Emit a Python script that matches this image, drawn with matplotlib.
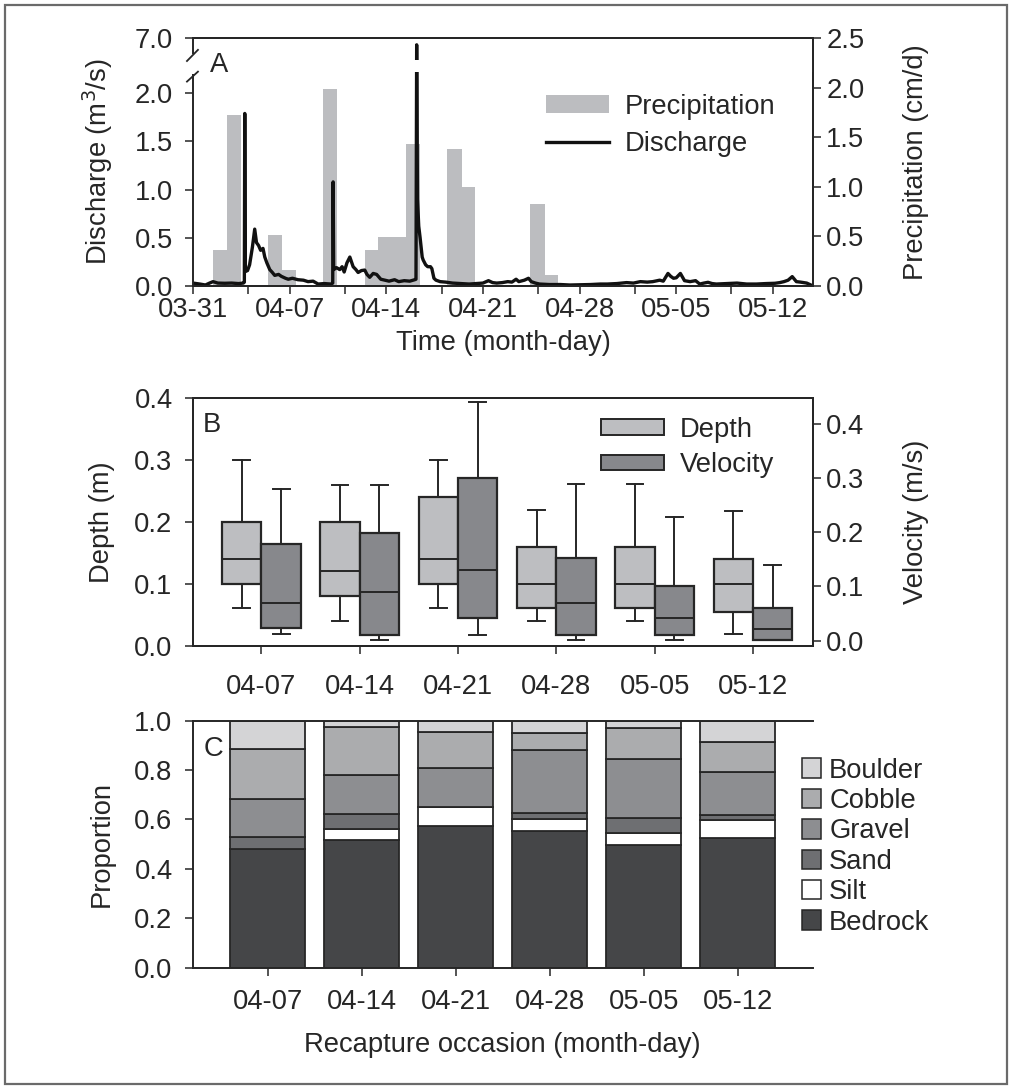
import matplotlib
matplotlib.use("Agg")
import matplotlib.pyplot as plt
import numpy as np
from matplotlib.patches import Patch, Rectangle
from matplotlib.lines import Line2D

# ---------------- data ----------------
# panel A: days after 03-31
week_days = [0, 7, 14, 21, 28, 35, 42]
week_labels = ['03-31', '04-07', '04-14', '04-21', '04-28', '05-05', '05-12']
half_week_days = [4, 11, 18, 25, 32, 39]

precip_day = [1, 2, 5, 6, 9, 12, 13, 14, 15, 18, 19, 24, 25]
precip_cm = [0.36, 1.73, 0.51, 0.16, 1.99, 0.36, 0.49, 0.49, 1.43, 1.38, 1.00, 0.83, 0.11]

discharge_day = [0.0, 0.5, 0.9, 1.2, 1.45, 1.8, 2.3, 2.8, 3.3, 3.65, 3.72, 3.75, 3.79,
                 3.95, 4.1, 4.3, 4.47, 4.6, 4.75, 4.9, 5.07, 5.2, 5.35, 5.56, 5.75, 5.92,
                 6.2, 6.4, 6.7, 6.9, 7.2, 7.6, 8.0, 8.33, 8.7, 9.06, 9.5, 10.0, 10.12,
                 10.15, 10.19, 10.4, 10.63, 10.8, 10.95, 11.15, 11.36, 11.5, 11.6, 11.8,
                 11.96, 12.2, 12.44, 12.6, 12.8, 13.05, 13.3, 13.6, 13.9, 14.2, 14.6,
                 14.9, 15.3, 15.7, 16.06, 16.15, 16.2, 16.26, 16.35, 16.45, 16.6, 16.67,
                 16.85, 17.0, 17.2, 17.3, 17.45, 17.6, 17.9, 18.3, 18.8, 19.4, 20.0,
                 20.5, 21.0, 21.4, 21.7, 22.0, 22.4, 22.8, 23.1, 23.4, 23.6, 24.0, 24.3,
                 24.5, 24.8, 25.1, 25.8, 26.6, 27.3, 28.0, 28.8, 29.5, 30.0, 30.7, 31.4,
                 31.9, 32.4, 32.9, 33.3, 33.8, 34.06, 34.4, 34.6, 34.8, 35.0, 35.3, 35.6,
                 36.0, 36.4, 36.7, 37.0, 37.3, 37.6, 37.9, 38.6, 39.4, 40.1, 40.8, 41.5,
                 42.15, 42.5, 42.8, 43.1, 43.4, 43.7, 44.0, 44.45, 44.9]
discharge_m3s = [0.03, 0.02, 0.01, 0.03, 0.045, 0.03, 0.028, 0.03, 0.025, 0.03, 0.04, 1.79, 0.15,
                 0.16, 0.22, 0.40, 0.59, 0.45, 0.42, 0.37, 0.39, 0.30, 0.24, 0.17, 0.14, 0.11,
                 0.12, 0.10, 0.08, 0.07, 0.08, 0.065, 0.06, 0.045, 0.05, 0.02, 0.025, 0.02, 0.03,
                 1.08, 0.17, 0.19, 0.17, 0.20, 0.145, 0.24, 0.30, 0.24, 0.20, 0.17,
                 0.14, 0.16, 0.165, 0.12, 0.09, 0.13, 0.12, 0.07, 0.06, 0.05, 0.065,
                 0.045, 0.055, 0.05, 0.065, 0.07, 6.6, 0.9, 0.62, 0.50, 0.30, 0.27,
                 0.22, 0.20, 0.20, 0.18, 0.08, 0.06, 0.045, 0.04, 0.03, 0.025, 0.02,
                 0.025, 0.03, 0.055, 0.035, 0.03, 0.035, 0.045, 0.04, 0.07, 0.045, 0.06, 0.08,
                 0.045, 0.03, 0.02, 0.015, 0.015, 0.01, 0.012, 0.015, 0.02, 0.02, 0.025, 0.035,
                 0.03, 0.045, 0.04, 0.045, 0.06, 0.05, 0.13, 0.10, 0.08, 0.085, 0.13, 0.055,
                 0.045, 0.055, 0.02, 0.03, 0.038, 0.025, 0.02, 0.025, 0.03, 0.02, 0.02, 0.025,
                 0.028, 0.035, 0.045, 0.06, 0.097, 0.045, 0.04, 0.03, 0.0]

# panel B / C: recapture occasions
occasions = ['04-07', '04-14', '04-21', '04-28', '05-05', '05-12']

# box stats: whisker low, q1, median, q3, whisker high
depth_wlo = [0.061, 0.041, 0.061, 0.040, 0.040, 0.020]
depth_q1 = [0.100, 0.080, 0.100, 0.061, 0.061, 0.055]
depth_med = [0.140, 0.121, 0.140, 0.100, 0.100, 0.100]
depth_q3 = [0.200, 0.200, 0.241, 0.160, 0.160, 0.140]
depth_whi = [0.300, 0.260, 0.300, 0.219, 0.261, 0.218]

vel_wlo = [0.012, 0.001, 0.010, 0.001, 0.001, 0.001]
vel_q1 = [0.024, 0.010, 0.041, 0.010, 0.010, 0.001]
vel_med = [0.070, 0.090, 0.130, 0.070, 0.041, 0.021]
vel_q3 = [0.179, 0.199, 0.299, 0.152, 0.100, 0.060]
vel_whi = [0.279, 0.287, 0.439, 0.288, 0.228, 0.139]

substrates = ['Bedrock', 'Silt', 'Sand', 'Gravel', 'Cobble', 'Boulder']
bedrock = [0.479, 0.517, 0.575, 0.553, 0.497, 0.526]
silt = [0.000, 0.046, 0.077, 0.049, 0.047, 0.072]
sand = [0.049, 0.059, 0.000, 0.023, 0.061, 0.020]
gravel = [0.154, 0.158, 0.155, 0.256, 0.239, 0.176]
cobble = [0.203, 0.196, 0.148, 0.068, 0.125, 0.121]
boulder = [0.115, 0.024, 0.045, 0.051, 0.031, 0.085]

# ---------------- style ----------------
ink = '#262626'
plt.rcParams['font.family'] = ['Liberation Sans', 'DejaVu Sans']
plt.rcParams['font.size'] = 19.7
plt.rcParams['text.color'] = ink
plt.rcParams['axes.labelcolor'] = ink
plt.rcParams['axes.edgecolor'] = ink
plt.rcParams['axes.linewidth'] = 1.4
for a in ('xtick', 'ytick'):
    plt.rcParams[a + '.color'] = ink
    plt.rcParams[a + '.labelcolor'] = ink
    plt.rcParams[a + '.major.size'] = 5.5
    plt.rcParams[a + '.minor.size'] = 5.5
    plt.rcParams[a + '.major.width'] = 1.1
    plt.rcParams[a + '.minor.width'] = 1.1
    plt.rcParams[a + '.direction'] = 'out'

fig = plt.figure(figsize=(10.12, 10.89), dpi=100)
fig.patches.append(Rectangle((0.005, 0.005), 0.99, 0.99, transform=fig.transFigure,
                             fill=False, ec='#6a6a6a', lw=1.6))

# ---------------- panel A ----------------
axA = fig.add_axes([0.1907, 0.7374, 0.6126, 0.2275])
axA2 = axA.twinx()
axA.set_zorder(axA2.get_zorder() + 1)
axA.patch.set_visible(False)


def fwd(v):
    v = np.asarray(v, dtype=float)
    return np.where(v <= 2.2, v,
                    np.where(v <= 6.0, 2.2 + (v - 2.2) * (0.2 / 3.8), 2.4 + (v - 6.0) * 0.171))


def inv(u):
    u = np.asarray(u, dtype=float)
    return np.where(u <= 2.2, u,
                    np.where(u <= 2.4, 2.2 + (u - 2.2) * (3.8 / 0.2), 6.0 + (u - 2.4) / 0.171))


precip_color = '#bcbdc0'
axA2.bar(np.array(precip_day) + 0.43, precip_cm, width=1.03, align='edge',
         color=precip_color, lw=0)
axA2.set_ylim(0, 2.5)
axA2.set_yticks([0, 0.5, 1.0, 1.5, 2.0, 2.5])
axA2.set_yticklabels(['%.1f' % t for t in [0, 0.5, 1.0, 1.5, 2.0, 2.5]])
axA2.tick_params(axis='y', pad=4)
axA2.set_ylabel('Precipitation (cm/d)', labelpad=28)
axA2.spines['left'].set_visible(False)

axA.plot(discharge_day, discharge_m3s, color='#111111', lw=2.4, zorder=2)
axA.set_yscale('function', functions=(fwd, inv))
axA.set_ylim(0, 7.0)
axA.set_yticks([0, 0.5, 1.0, 1.5, 2.0, 7.0])
axA.set_yticklabels(['0.0', '0.5', '1.0', '1.5', '2.0', '7.0'])
axA.yaxis.set_minor_locator(matplotlib.ticker.NullLocator())
axA.tick_params(axis='y', pad=9)
axA.tick_params(axis='x', which='major', pad=2.5)
axA.set_ylabel('Discharge (m$^3$/s)', labelpad=14)
axA.set_xlim(0, 44.9)
axA.set_xticks(week_days)
axA.set_xticklabels(week_labels)
axA.set_xticks(half_week_days, minor=True)
axA.set_xlabel('Time (month-day)', labelpad=5)

# axis break
axA.add_patch(Rectangle((0, 0.862), 1, 0.052, transform=axA.transAxes,
                        fc='white', ec='none', zorder=2.3))
axA.add_patch(Rectangle((-0.015, 0.855), 0.03, 0.08, transform=axA.transAxes,
                        fc='white', ec='none', zorder=3, clip_on=False))
for y0, y1 in [(0.825, 0.865), (0.908, 0.953)]:
    axA.add_line(Line2D([-0.0097, 0.008], [y0, y1], transform=axA.transAxes,
                        color=ink, lw=1.3, clip_on=False, zorder=4))
axA.text(0.028, 0.865, 'A', transform=axA.transAxes, ha='left', va='baseline')

axA.legend([Patch(fc=precip_color, ec='none'), Line2D([], [], color='#111111', lw=2.4)],
           ['Precipitation', 'Discharge'], loc='upper left', bbox_to_anchor=(0.57, 0.775),
           frameon=False, borderpad=0, borderaxespad=0, handlelength=2.3,
           handleheight=0.65, handletextpad=0.55, labelspacing=0.4)

# ---------------- panel B ----------------
axB = fig.add_axes([0.1904, 0.4068, 0.6126, 0.2277])
axB2 = axB.twinx()
pos = np.arange(1, len(occasions) + 1)
depth_color = '#bdbec1'
vel_color = '#87888c'


def make_stats(lo, q1, med, q3, hi):
    return [dict(whislo=a, q1=b, med=c, q3=d, whishi=e, fliers=[])
            for a, b, c, d, e in zip(lo, q1, med, q3, hi)]


line_kw = dict(color=ink, lw=1.4)
axB.bxp(make_stats(depth_wlo, depth_q1, depth_med, depth_q3, depth_whi),
        positions=pos - 0.2, widths=0.4, capwidths=0.17, patch_artist=True, showfliers=False,
        boxprops=dict(fc=depth_color, ec=ink, lw=1.6), medianprops=line_kw,
        whiskerprops=line_kw, capprops=line_kw, manage_ticks=False)
axB2.bxp(make_stats(vel_wlo, vel_q1, vel_med, vel_q3, vel_whi),
         positions=pos + 0.2, widths=0.4, capwidths=0.17, patch_artist=True, showfliers=False,
         boxprops=dict(fc=vel_color, ec=ink, lw=1.6), medianprops=line_kw,
         whiskerprops=line_kw, capprops=line_kw, manage_ticks=False)
axB.set_xlim(0.30, 6.607)
axB.set_xticks(pos)
axB.set_xticklabels(occasions)
axB.tick_params(axis='x', pad=15)
axB.set_ylim(0, 0.4)
axB.set_yticks([0, 0.1, 0.2, 0.3, 0.4])
axB.set_yticklabels(['%.1f' % t for t in [0, 0.1, 0.2, 0.3, 0.4]])
axB.tick_params(axis='y', pad=9)
axB.set_ylabel('Depth (m)', labelpad=14)
axB2.set_ylim(-0.0098, 0.447)
axB2.set_yticks([0, 0.1, 0.2, 0.3, 0.4])
axB2.set_yticklabels(['%.1f' % t for t in [0, 0.1, 0.2, 0.3, 0.4]])
axB2.tick_params(axis='y', pad=4)
axB2.set_ylabel('Velocity (m/s)', labelpad=28)
axB.text(0.017, 0.864, 'B', transform=axB.transAxes, ha='left', va='baseline')
axB2.legend([Patch(fc=depth_color, ec=ink, lw=1.4), Patch(fc=vel_color, ec=ink, lw=1.4)],
            ['Depth', 'Velocity'], loc='upper left', bbox_to_anchor=(0.658, 0.925),
            frameon=False, borderpad=0, borderaxespad=0, handlelength=2.3,
            handleheight=0.5, handletextpad=0.6, labelspacing=0.35)

# ---------------- panel C ----------------
axC = fig.add_axes([0.1904, 0.1114, 0.6129, 0.2268])
layers = [bedrock, silt, sand, gravel, cobble, boulder]
layer_colors = ['#454648', '#ffffff', '#6e6f72', '#8d8e91', '#abacae', '#d4d4d6']
bottom = np.zeros(len(occasions))
handles = []
for name, vals, col in zip(substrates, layers, layer_colors):
    axC.bar(pos, vals, width=0.8, bottom=bottom, color=col, ec=ink, lw=1.3)
    bottom += np.array(vals)
    handles.append(Patch(fc=col, ec=ink, lw=1.1))
axC.set_xlim(0.2, 6.8)
axC.set_ylim(0, 1.0)
axC.set_xticks(pos)
axC.set_xticklabels(occasions)
axC.tick_params(axis='x', pad=10)
axC.set_yticks([0, 0.2, 0.4, 0.6, 0.8, 1.0])
axC.set_yticklabels(['%.1f' % t for t in [0, 0.2, 0.4, 0.6, 0.8, 1.0]])
axC.tick_params(axis='y', pad=9)
axC.spines['right'].set_visible(False)
axC.set_ylabel('Proportion', labelpad=14)
axC.set_xlabel('Recapture occasion (month-day)', labelpad=12)
axC.text(0.017, 0.857, 'C', transform=axC.transAxes, ha='left', va='baseline')
axC.legend(handles[::-1], substrates[::-1], loc='center left', bbox_to_anchor=(0.982, 0.49),
           frameon=False, borderpad=0, borderaxespad=0, handlelength=0.72,
           handleheight=0.72, handletextpad=0.28, labelspacing=0.16)

fig.savefig('out.png', dpi=100)
